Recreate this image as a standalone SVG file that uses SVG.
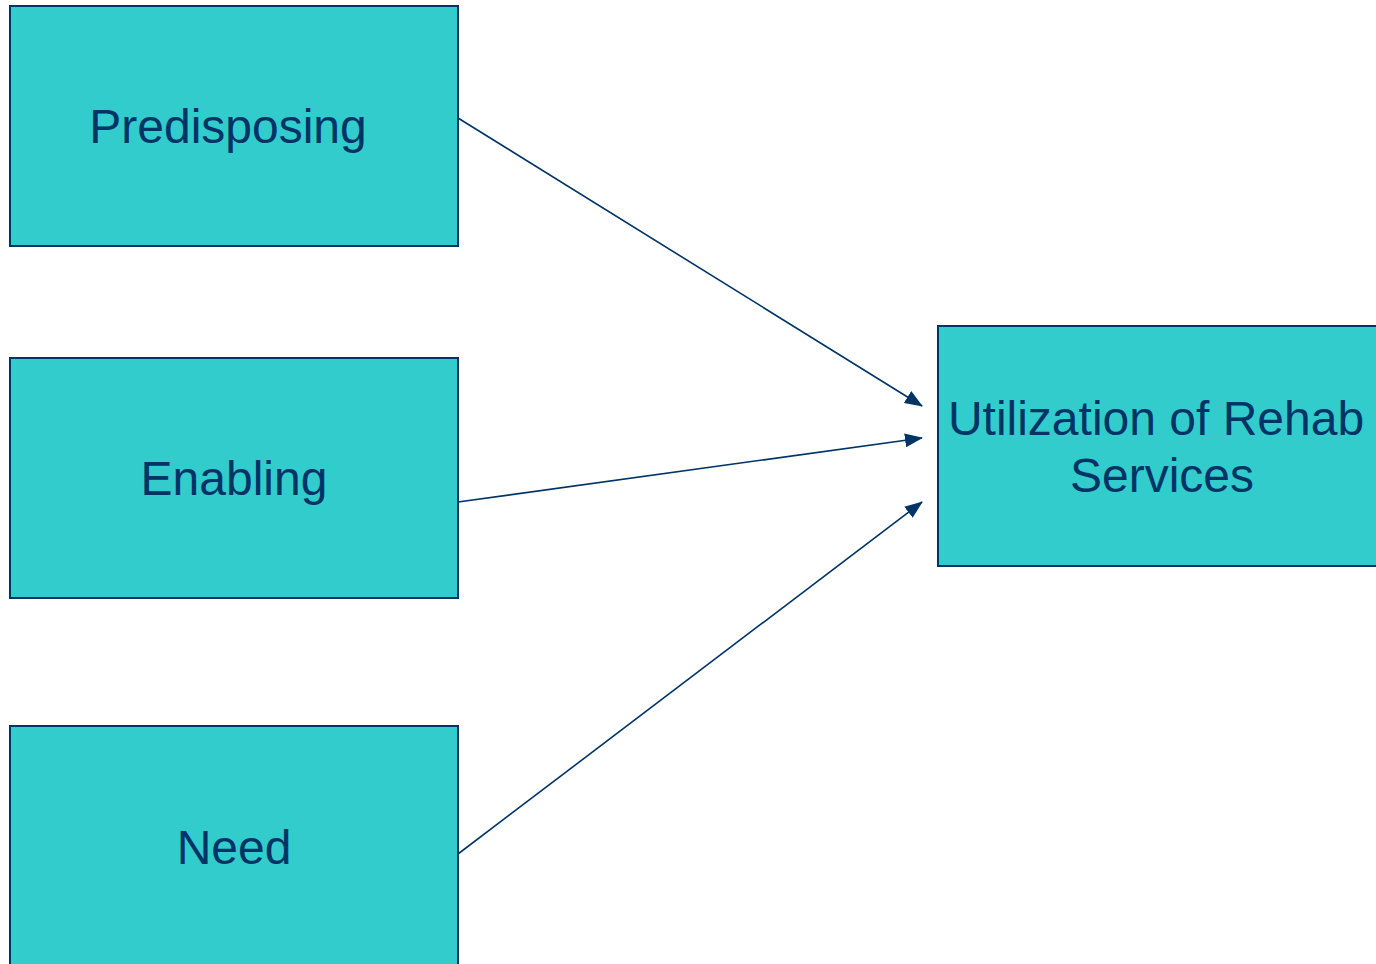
<svg xmlns="http://www.w3.org/2000/svg" width="1376" height="964" viewBox="0 0 1376 964">
  <style>
    .box { fill: #33CCCC; stroke: #003366; stroke-width: 2; }
    .label { font-family: "Liberation Sans", Arial, sans-serif; font-size: 48px; fill: #003366; text-anchor: middle; }
    .link { stroke: #003366; stroke-width: 1.6; fill: none; marker-end: url(#head); }
  </style>
  <defs>
    <marker id="head" markerWidth="18" markerHeight="14" refX="17" refY="7" orient="auto" markerUnits="userSpaceOnUse" viewBox="0 0 18 14">
      <path d="M0,0 L18,7 L0,14 Z" fill="#003366"/>
    </marker>
  </defs>
  <rect width="1376" height="964" fill="#FFFFFF"/>

  <g id="predisposing">
    <rect class="box" x="10" y="6" width="448" height="240"/>
    <text class="label" x="228" y="143">Predisposing</text>
  </g>
  <g id="enabling">
    <rect class="box" x="10" y="358" width="448" height="240"/>
    <text class="label" x="234" y="495">Enabling</text>
  </g>
  <g id="need">
    <rect class="box" x="10" y="726" width="448" height="260"/>
    <text class="label" x="234" y="864">Need</text>
  </g>
  <g id="utilization">
    <rect class="box" x="938" y="326" width="450" height="240"/>
    <text class="label" x="1156" y="435">Utilization of Rehab</text>
    <text class="label" x="1162" y="492">Services</text>
  </g>

  <g id="connectors">
    <line class="link" x1="458" y1="118" x2="922" y2="406"/>
    <line class="link" x1="458" y1="502" x2="922" y2="438"/>
    <line class="link" x1="458" y1="854" x2="922" y2="502"/>
  </g>
</svg>
